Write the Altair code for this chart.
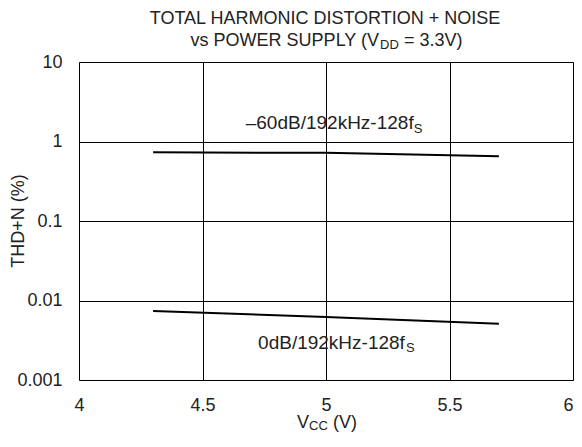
import altair as alt
import pandas as pd

# ---- data ----
vcc = [4.3, 5.0, 5.7]
thd_m60 = [0.73, 0.72, 0.65]
thd_0 = [0.0074, 0.0062, 0.0051]
series = ["-60dB", "0dB"]

x_ticks = [4, 4.5, 5, 5.5, 6]
y_ticks = [0.001, 0.01, 0.1, 1, 10]

label_main = ["\u201360dB/192kHz-128f", "0dB/192kHz-128f"]
label_x = [4.675, 4.725]
label_y = [1.71, 0.0029]
sub_x = [5.355, 5.324]
sub_y = [1.45, 0.00250]

FONT = "Liberation Sans"
W, H = 494, 318

rows = []
for s, ys in zip(series, [thd_m60, thd_0]):
    for xv, yv in zip(vcc, ys):
        rows.append({"series": s, "vcc": xv, "thd": yv})
df = pd.DataFrame(rows)

lab = pd.DataFrame({"text": label_main, "x": label_x, "y": label_y})
sub = pd.DataFrame({"text": ["S", "S"], "x": sub_x, "y": sub_y})

xscale = alt.Scale(domain=[4, 6], nice=False, zero=False)
yscale = alt.Scale(type="log", domain=[0.001, 10], nice=False)

xaxis = alt.Axis(values=x_ticks, grid=True, gridColor="black", gridOpacity=1, gridWidth=1,
                 ticks=False, domain=False, labelFont=FONT, labelFontSize=18,
                 labelColor="#222", labelPadding=16, title=None, labelFlush=False,
                 format="~g",
                 labelAlign=alt.condition("datum.value == 6", alt.value("right"), alt.value("center")))
yaxis = alt.Axis(values=y_ticks, grid=True, gridColor="black", gridOpacity=1, gridWidth=1,
                 ticks=False, domain=False, labelFont=FONT, labelFontSize=18,
                 labelColor="#222", labelPadding=17, title=None, labelFlush=False,
                 labelExpr="datum.value >= 1 ? format(datum.value, 'd') : format(datum.value, '')")

base = alt.Chart(df)
lines = base.mark_line(color="black", strokeWidth=2).encode(
    x=alt.X("vcc:Q", scale=xscale, axis=xaxis),
    y=alt.Y("thd:Q", scale=yscale, axis=yaxis),
    detail="series:N",
)

labels = alt.Chart(lab).mark_text(align="left", baseline="middle", font=FONT,
                                   fontSize=19, color="#222").encode(
    x=alt.X("x:Q", scale=xscale), y=alt.Y("y:Q", scale=yscale), text="text:N")
subs = alt.Chart(sub).mark_text(align="left", baseline="middle", font=FONT,
                                 fontSize=13, color="#222").encode(
    x=alt.X("x:Q", scale=xscale), y=alt.Y("y:Q", scale=yscale), text="text:N")

one = pd.DataFrame({"k": [0]})


def txt(text, x, y, size=18, align="center", angle=0):
    kw = dict(align=align, baseline="middle", font=FONT, fontSize=size,
              color="#222", text=text)
    if angle:
        kw["angle"] = angle
    return alt.Chart(one).mark_text(**kw).encode(x=alt.value(x), y=alt.value(y))


title1 = txt("TOTAL HARMONIC DISTORTION + NOISE", 246, -43)
title2a = txt("vs POWER SUPPLY (V", 300, -21, align="right")
title2b = txt("DD", 301, -17, size=13, align="left")
title2c = txt("= 3.3V)", 325, -21, align="left")

xt_a = txt("V", 218, 361, align="left")
xt_b = txt("CC", 230, 364, size=13, align="left")
xt_c = txt("(V)", 254, 361, align="left")

yt = txt("THD+N (%)", -60, H / 2, angle=270)

chart = alt.layer(
    lines, labels, subs, title1, title2a, title2b, title2c, xt_a, xt_b, xt_c, yt
).properties(
    width=W, height=H,
    padding={"left": 71, "top": 54, "right": 1, "bottom": 54},
    autosize=alt.AutoSizeParams(type="none"),
).configure_view(
    stroke="black", strokeWidth=2
).configure(background="white")

chart.save("out.html", embed_options={"renderer": "svg", "actions": False})
